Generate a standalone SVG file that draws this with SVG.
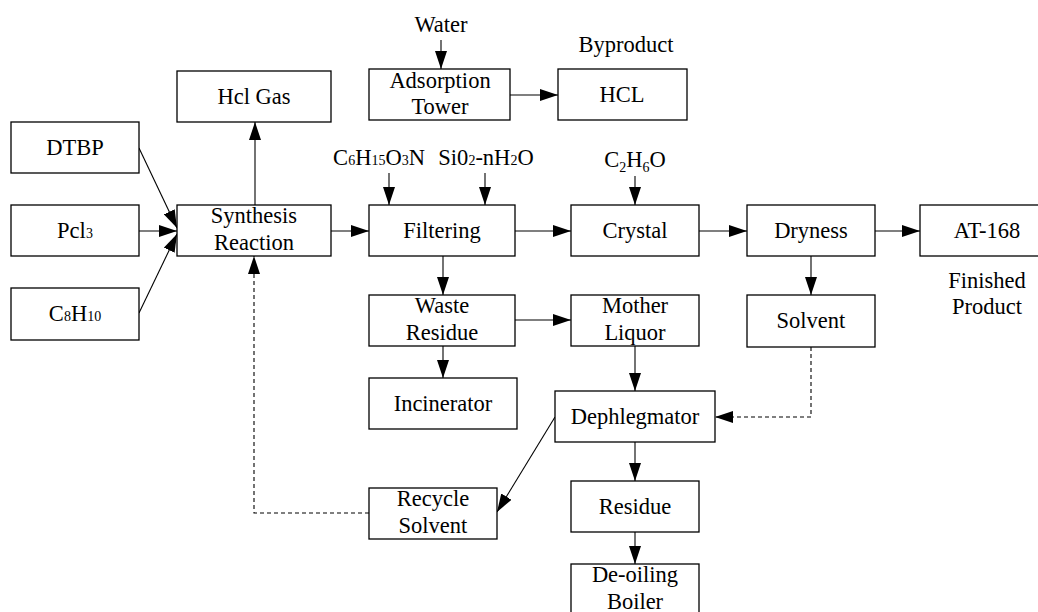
<svg xmlns="http://www.w3.org/2000/svg" width="1038" height="612" viewBox="0 0 1038 612">
<style>
.n rect{fill:#fff;stroke:#000;stroke-width:1.3}
.t{font-family:'Liberation Serif',serif;font-size:22.5px;fill:#000;text-anchor:middle}
.c line,.c polyline{stroke:#000;stroke-width:1.1;fill:none}
.d{stroke-dasharray:4,3}
.s{font-size:14px}
</style>
<defs>
<marker id="a" markerWidth="18" markerHeight="12" refX="18" refY="6" orient="auto" markerUnits="userSpaceOnUse"><path d="M0,0 L18,6 L0,12 z" fill="#000"/></marker>
</defs>
<rect x="0" y="0" width="1038" height="612" fill="#fff"/>
<g class="c" id="connectors">
<line x1="441" y1="40" x2="441" y2="69" marker-end="url(#a)"/>
<line x1="510" y1="95" x2="558" y2="95" marker-end="url(#a)"/>
<line x1="255" y1="205" x2="255" y2="122" marker-end="url(#a)"/>
<line x1="139" y1="148" x2="177" y2="228" marker-end="url(#a)"/>
<line x1="139" y1="231" x2="177" y2="231" marker-end="url(#a)"/>
<line x1="139" y1="313" x2="177" y2="234" marker-end="url(#a)"/>
<line x1="331" y1="231" x2="369" y2="231" marker-end="url(#a)"/>
<line x1="389" y1="173" x2="389" y2="205" marker-end="url(#a)"/>
<line x1="485" y1="173" x2="485" y2="205" marker-end="url(#a)"/>
<line x1="635" y1="176" x2="635" y2="205" marker-end="url(#a)"/>
<line x1="515" y1="231" x2="571" y2="231" marker-end="url(#a)"/>
<line x1="699" y1="231" x2="747" y2="231" marker-end="url(#a)"/>
<line x1="875" y1="231" x2="920" y2="231" marker-end="url(#a)"/>
<line x1="443" y1="256" x2="443" y2="295" marker-end="url(#a)"/>
<line x1="811" y1="256" x2="811" y2="295" marker-end="url(#a)"/>
<line x1="515" y1="320" x2="571" y2="320" marker-end="url(#a)"/>
<line x1="443" y1="346" x2="443" y2="378" marker-end="url(#a)"/>
<line x1="635" y1="346" x2="635" y2="391" marker-end="url(#a)"/>
<line x1="635" y1="442" x2="635" y2="481" marker-end="url(#a)"/>
<line x1="635" y1="532" x2="635" y2="564" marker-end="url(#a)"/>
<line x1="555" y1="417" x2="497" y2="512" marker-end="url(#a)"/>
<polyline class="d" points="811,347 811,417 715,417" marker-end="url(#a)"/>
<polyline class="d" points="369,513 254,513 254,256" marker-end="url(#a)"/>
</g>
<g id="labels" class="t">
<text x="441" y="32">Water</text>
<text x="626" y="52">Byproduct</text>
<text x="987" y="288">Finished</text>
<text x="987" y="314">Product</text>
<text x="379" y="165">C<tspan class="s">6</tspan>H<tspan class="s">15</tspan>O<tspan class="s">3</tspan>N</text>
<text x="486" y="165">Si0<tspan class="s">2</tspan>-nH<tspan class="s">2</tspan>O</text>
<text x="635" y="167">C<tspan class="s" dy="5">2</tspan><tspan dy="-5">H</tspan><tspan class="s" dy="5">6</tspan><tspan dy="-5">O</tspan></text>
</g>
<g class="n t" id="hclgas"><rect x="177" y="71" width="154" height="51"/><text x="254" y="104">Hcl Gas</text></g>
<g class="n t" id="adsorption"><rect x="369" y="69" width="141" height="51"/><text x="440" y="88">Adsorption</text><text x="440" y="114">Tower</text></g>
<g class="n t" id="hcl"><rect x="558" y="69" width="129" height="51"/><text x="622" y="102">HCL</text></g>
<g class="n t" id="dtbp"><rect x="11" y="122" width="128" height="51"/><text x="75" y="155">DTBP</text></g>
<g class="n t" id="pcl3"><rect x="11" y="205" width="128" height="51"/><text x="75" y="238">Pcl<tspan class="s">3</tspan></text></g>
<g class="n t" id="c8h10"><rect x="11" y="288" width="128" height="52"/><text x="75" y="321">C<tspan class="s">8</tspan>H<tspan class="s">10</tspan></text></g>
<g class="n t" id="synthesis"><rect x="177" y="205" width="154" height="51"/><text x="254" y="223">Synthesis</text><text x="254" y="250">Reaction</text></g>
<g class="n t" id="filtering"><rect x="369" y="205" width="146" height="51"/><text x="442" y="238">Filtering</text></g>
<g class="n t" id="crystal"><rect x="571" y="205" width="128" height="51"/><text x="635" y="238">Crystal</text></g>
<g class="n t" id="dryness"><rect x="747" y="205" width="128" height="51"/><text x="811" y="238">Dryness</text></g>
<g class="n t" id="at168"><rect x="920" y="205" width="128" height="51"/><text x="987" y="238">AT-168</text></g>
<g class="n t" id="waste"><rect x="369" y="295" width="146" height="51"/><text x="442" y="313">Waste</text><text x="442" y="340">Residue</text></g>
<g class="n t" id="mother"><rect x="571" y="295" width="128" height="51"/><text x="635" y="313">Mother</text><text x="635" y="340">Liquor</text></g>
<g class="n t" id="solvent"><rect x="747" y="295" width="128" height="52"/><text x="811" y="328">Solvent</text></g>
<g class="n t" id="incinerator"><rect x="369" y="378" width="148" height="51"/><text x="443" y="411">Incinerator</text></g>
<g class="n t" id="dephlegmator"><rect x="555" y="391" width="160" height="51"/><text x="635" y="424">Dephlegmator</text></g>
<g class="n t" id="recycle"><rect x="369" y="488" width="128" height="51"/><text x="433" y="506">Recycle</text><text x="433" y="533">Solvent</text></g>
<g class="n t" id="residue"><rect x="571" y="481" width="128" height="51"/><text x="635" y="514">Residue</text></g>
<g class="n t" id="boiler"><rect x="571" y="564" width="128" height="60"/><text x="635" y="582">De-oiling</text><text x="635" y="609">Boiler</text></g>
</svg>
